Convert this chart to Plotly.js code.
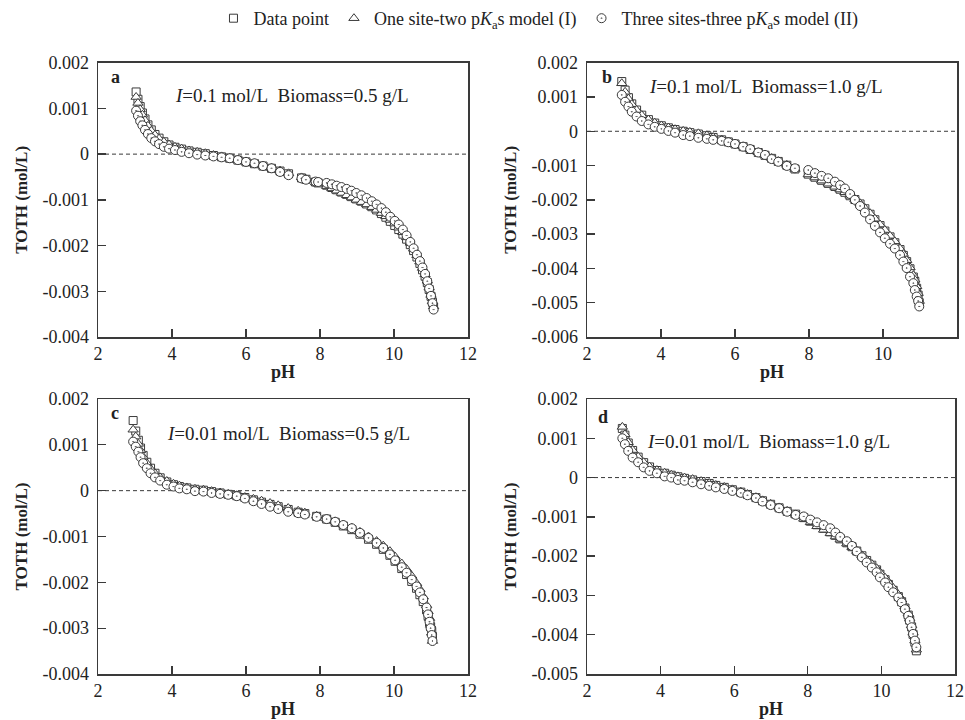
<!DOCTYPE html>
<html>
<head>
<meta charset="utf-8">
<script src="https://cdn.plot.ly/plotly-3.0.1.min.js"></script>
<style>html,body{margin:0;padding:0;background:#fff;}#chart{width:965px;height:720px;}</style>
</head>
<body>
<div id="chart"></div>
<script>
// ---------- Data (TOTH in mol/L vs pH) ----------
// Panel a: I=0.1 mol/L, Biomass=0.5 g/L
const pHA = [3.03,3.08,3.14,3.20,3.27,3.35,3.44,3.54,3.65,3.78,3.92,4.08,4.26,4.46,4.68,4.90,5.12,5.34,5.56,5.78,6.00,6.23,6.46,6.69,6.92,7.15,7.50,7.62,7.88,7.95,8.18,8.32,8.45,8.58,8.72,8.85,8.98,9.12,9.26,9.40,9.53,9.66,9.78,9.90,10.02,10.13,10.24,10.34,10.44,10.53,10.62,10.70,10.77,10.84,10.90,10.95,11.00,11.04,11.07];
const dataA = [1.36e-3,1.20e-3,1.04e-3,0.90e-3,0.77e-3,0.64e-3,0.53e-3,0.43e-3,0.35e-3,0.27e-3,0.20e-3,0.15e-3,0.11e-3,0.07e-3,0.04e-3,0.01e-3,-0.03e-3,-0.06e-3,-0.09e-3,-0.13e-3,-0.17e-3,-0.21e-3,-0.26e-3,-0.31e-3,-0.37e-3,-0.43e-3,-0.52e-3,-0.55e-3,-0.61e-3,-0.63e-3,-0.68e-3,-0.73e-3,-0.78e-3,-0.83e-3,-0.88e-3,-0.93e-3,-0.98e-3,-1.03e-3,-1.09e-3,-1.15e-3,-1.22e-3,-1.30e-3,-1.38e-3,-1.47e-3,-1.56e-3,-1.65e-3,-1.75e-3,-1.86e-3,-1.98e-3,-2.11e-3,-2.25e-3,-2.39e-3,-2.53e-3,-2.67e-3,-2.81e-3,-2.96e-3,-3.11e-3,-3.24e-3,-3.35e-3];
const model1A = [1.25e-3,1.12e-3,0.98e-3,0.86e-3,0.74e-3,0.62e-3,0.51e-3,0.42e-3,0.34e-3,0.27e-3,0.21e-3,0.16e-3,0.12e-3,0.08e-3,0.05e-3,0.02e-3,-0.02e-3,-0.05e-3,-0.08e-3,-0.12e-3,-0.16e-3,-0.20e-3,-0.25e-3,-0.30e-3,-0.36e-3,-0.42e-3,-0.51e-3,-0.55e-3,-0.62e-3,-0.64e-3,-0.70e-3,-0.75e-3,-0.80e-3,-0.85e-3,-0.90e-3,-0.95e-3,-1.00e-3,-1.05e-3,-1.10e-3,-1.16e-3,-1.22e-3,-1.29e-3,-1.36e-3,-1.44e-3,-1.52e-3,-1.61e-3,-1.71e-3,-1.82e-3,-1.94e-3,-2.07e-3,-2.21e-3,-2.35e-3,-2.49e-3,-2.63e-3,-2.77e-3,-2.92e-3,-3.08e-3,-3.22e-3,-3.33e-3];
const model2A = [0.95e-3,0.84e-3,0.72e-3,0.63e-3,0.53e-3,0.44e-3,0.35e-3,0.28e-3,0.22e-3,0.16e-3,0.12e-3,0.09e-3,0.05e-3,0.02e-3,-0.01e-3,-0.03e-3,-0.05e-3,-0.07e-3,-0.09e-3,-0.13e-3,-0.17e-3,-0.20e-3,-0.26e-3,-0.31e-3,-0.39e-3,-0.46e-3,-0.53e-3,-0.56e-3,-0.60e-3,-0.61e-3,-0.63e-3,-0.66e-3,-0.69e-3,-0.72e-3,-0.76e-3,-0.80e-3,-0.85e-3,-0.90e-3,-0.96e-3,-1.03e-3,-1.10e-3,-1.18e-3,-1.27e-3,-1.37e-3,-1.46e-3,-1.54e-3,-1.65e-3,-1.78e-3,-1.92e-3,-2.06e-3,-2.20e-3,-2.34e-3,-2.48e-3,-2.62e-3,-2.78e-3,-2.94e-3,-3.10e-3,-3.26e-3,-3.40e-3];

// Panel b: I=0.1 mol/L, Biomass=1.0 g/L
const pHB = [2.94,3.03,3.12,3.21,3.34,3.48,3.66,3.83,4.01,4.20,4.38,4.60,4.78,5.01,5.24,5.41,5.64,5.82,6.00,6.22,6.41,6.63,6.81,6.99,7.17,7.40,7.62,7.98,8.16,8.34,8.52,8.70,8.84,8.97,9.11,9.24,9.38,9.51,9.65,9.78,9.92,10.05,10.19,10.32,10.46,10.55,10.64,10.73,10.82,10.86,10.91,10.95,10.98];
const dataB = [1.45e-3,1.20e-3,0.98e-3,0.80e-3,0.62e-3,0.47e-3,0.34e-3,0.24e-3,0.16e-3,0.10e-3,0.05e-3,0.00e-3,-0.04e-3,-0.08e-3,-0.13e-3,-0.18e-3,-0.25e-3,-0.31e-3,-0.37e-3,-0.45e-3,-0.53e-3,-0.62e-3,-0.70e-3,-0.79e-3,-0.88e-3,-0.99e-3,-1.10e-3,-1.25e-3,-1.34e-3,-1.43e-3,-1.52e-3,-1.61e-3,-1.69e-3,-1.78e-3,-1.88e-3,-1.99e-3,-2.12e-3,-2.26e-3,-2.42e-3,-2.58e-3,-2.75e-3,-2.91e-3,-3.08e-3,-3.25e-3,-3.45e-3,-3.62e-3,-3.80e-3,-4.01e-3,-4.25e-3,-4.38e-3,-4.58e-3,-4.78e-3,-5.00e-3];
const model1B = [1.40e-3,1.15e-3,0.95e-3,0.79e-3,0.62e-3,0.47e-3,0.34e-3,0.25e-3,0.17e-3,0.11e-3,0.06e-3,0.01e-3,-0.02e-3,-0.06e-3,-0.12e-3,-0.17e-3,-0.24e-3,-0.30e-3,-0.36e-3,-0.44e-3,-0.52e-3,-0.61e-3,-0.69e-3,-0.78e-3,-0.87e-3,-0.98e-3,-1.10e-3,-1.26e-3,-1.35e-3,-1.44e-3,-1.53e-3,-1.62e-3,-1.70e-3,-1.78e-3,-1.88e-3,-1.98e-3,-2.10e-3,-2.24e-3,-2.39e-3,-2.55e-3,-2.72e-3,-2.88e-3,-3.05e-3,-3.21e-3,-3.42e-3,-3.58e-3,-3.76e-3,-3.97e-3,-4.20e-3,-4.33e-3,-4.52e-3,-4.72e-3,-4.95e-3];
const model2B = [1.06e-3,0.86e-3,0.72e-3,0.57e-3,0.43e-3,0.30e-3,0.20e-3,0.13e-3,0.07e-3,0.01e-3,-0.04e-3,-0.11e-3,-0.14e-3,-0.19e-3,-0.22e-3,-0.25e-3,-0.28e-3,-0.32e-3,-0.37e-3,-0.45e-3,-0.52e-3,-0.62e-3,-0.69e-3,-0.81e-3,-0.89e-3,-1.01e-3,-1.08e-3,-1.13e-3,-1.22e-3,-1.30e-3,-1.37e-3,-1.47e-3,-1.57e-3,-1.67e-3,-1.83e-3,-2.00e-3,-2.18e-3,-2.37e-3,-2.57e-3,-2.76e-3,-2.95e-3,-3.12e-3,-3.28e-3,-3.42e-3,-3.61e-3,-3.80e-3,-3.99e-3,-4.24e-3,-4.43e-3,-4.63e-3,-4.82e-3,-4.95e-3,-5.11e-3];

// Panel c: I=0.01 mol/L, Biomass=0.5 g/L
const pHC = [2.95,3.02,3.09,3.15,3.22,3.32,3.42,3.54,3.68,3.86,4.04,4.20,4.40,4.62,4.85,5.07,5.30,5.52,5.75,5.97,6.20,6.42,6.65,6.87,7.14,7.41,7.59,7.91,8.18,8.41,8.63,8.86,9.08,9.31,9.53,9.71,9.89,10.03,10.21,10.34,10.48,10.61,10.70,10.79,10.88,10.92,10.96,10.99,11.02,11.04];
const dataC = [1.53e-3,1.30e-3,1.10e-3,0.93e-3,0.77e-3,0.62e-3,0.49e-3,0.38e-3,0.28e-3,0.19e-3,0.13e-3,0.09e-3,0.06e-3,0.03e-3,0.01e-3,-0.02e-3,-0.05e-3,-0.08e-3,-0.11e-3,-0.15e-3,-0.20e-3,-0.25e-3,-0.30e-3,-0.35e-3,-0.41e-3,-0.47e-3,-0.50e-3,-0.56e-3,-0.62e-3,-0.69e-3,-0.77e-3,-0.85e-3,-0.95e-3,-1.06e-3,-1.17e-3,-1.28e-3,-1.41e-3,-1.54e-3,-1.70e-3,-1.83e-3,-1.98e-3,-2.13e-3,-2.27e-3,-2.42e-3,-2.60e-3,-2.73e-3,-2.87e-3,-2.97e-3,-3.08e-3,-3.18e-3];
const model1C = [1.33e-3,1.18e-3,1.02e-3,0.88e-3,0.74e-3,0.60e-3,0.48e-3,0.38e-3,0.29e-3,0.21e-3,0.15e-3,0.11e-3,0.07e-3,0.04e-3,0.02e-3,-0.01e-3,-0.04e-3,-0.07e-3,-0.10e-3,-0.14e-3,-0.18e-3,-0.22e-3,-0.27e-3,-0.32e-3,-0.38e-3,-0.44e-3,-0.48e-3,-0.55e-3,-0.61e-3,-0.67e-3,-0.74e-3,-0.81e-3,-0.90e-3,-1.00e-3,-1.10e-3,-1.20e-3,-1.32e-3,-1.44e-3,-1.59e-3,-1.71e-3,-1.86e-3,-2.02e-3,-2.15e-3,-2.31e-3,-2.50e-3,-2.63e-3,-2.78e-3,-2.93e-3,-3.10e-3,-3.28e-3];
const model2C = [1.07e-3,0.96e-3,0.85e-3,0.73e-3,0.60e-3,0.49e-3,0.38e-3,0.29e-3,0.22e-3,0.13e-3,0.09e-3,0.05e-3,0.03e-3,-0.01e-3,-0.02e-3,-0.05e-3,-0.07e-3,-0.09e-3,-0.12e-3,-0.17e-3,-0.23e-3,-0.29e-3,-0.35e-3,-0.40e-3,-0.46e-3,-0.49e-3,-0.52e-3,-0.57e-3,-0.62e-3,-0.68e-3,-0.75e-3,-0.82e-3,-0.92e-3,-1.03e-3,-1.14e-3,-1.25e-3,-1.39e-3,-1.52e-3,-1.67e-3,-1.79e-3,-1.94e-3,-2.09e-3,-2.22e-3,-2.37e-3,-2.55e-3,-2.70e-3,-2.86e-3,-3.00e-3,-3.15e-3,-3.28e-3];

// Panel d: I=0.01 mol/L, Biomass=1.0 g/L
const pHD = [2.96,3.03,3.12,3.24,3.39,3.54,3.70,3.90,4.11,4.29,4.47,4.65,4.87,5.10,5.32,5.50,5.73,5.95,6.18,6.36,6.59,6.77,6.99,7.22,7.44,7.67,7.89,8.07,8.25,8.43,8.61,8.75,8.88,9.06,9.20,9.33,9.47,9.60,9.74,9.87,9.96,10.10,10.19,10.32,10.46,10.55,10.64,10.73,10.77,10.82,10.86,10.91,10.95];
const dataD = [1.25e-3,1.08e-3,0.88e-3,0.69e-3,0.52e-3,0.38e-3,0.27e-3,0.18e-3,0.11e-3,0.06e-3,0.02e-3,-0.02e-3,-0.06e-3,-0.10e-3,-0.15e-3,-0.20e-3,-0.25e-3,-0.31e-3,-0.37e-3,-0.43e-3,-0.51e-3,-0.59e-3,-0.68e-3,-0.77e-3,-0.86e-3,-0.93e-3,-1.02e-3,-1.11e-3,-1.20e-3,-1.29e-3,-1.38e-3,-1.47e-3,-1.56e-3,-1.66e-3,-1.76e-3,-1.87e-3,-1.99e-3,-2.11e-3,-2.23e-3,-2.35e-3,-2.46e-3,-2.60e-3,-2.72e-3,-2.87e-3,-3.03e-3,-3.16e-3,-3.32e-3,-3.50e-3,-3.63e-3,-3.80e-3,-3.99e-3,-4.19e-3,-4.41e-3];
const model1D = [1.29e-3,1.10e-3,0.90e-3,0.70e-3,0.53e-3,0.39e-3,0.28e-3,0.19e-3,0.12e-3,0.07e-3,0.03e-3,0.00e-3,-0.04e-3,-0.09e-3,-0.14e-3,-0.19e-3,-0.24e-3,-0.30e-3,-0.36e-3,-0.42e-3,-0.50e-3,-0.58e-3,-0.67e-3,-0.76e-3,-0.85e-3,-0.95e-3,-1.05e-3,-1.14e-3,-1.24e-3,-1.33e-3,-1.42e-3,-1.50e-3,-1.58e-3,-1.68e-3,-1.77e-3,-1.87e-3,-1.98e-3,-2.09e-3,-2.20e-3,-2.31e-3,-2.41e-3,-2.55e-3,-2.66e-3,-2.81e-3,-2.98e-3,-3.11e-3,-3.28e-3,-3.46e-3,-3.59e-3,-3.76e-3,-3.95e-3,-4.15e-3,-4.38e-3];
const model2D = [1.00e-3,0.85e-3,0.68e-3,0.51e-3,0.39e-3,0.26e-3,0.17e-3,0.11e-3,0.03e-3,0.00e-3,-0.06e-3,-0.08e-3,-0.12e-3,-0.17e-3,-0.21e-3,-0.25e-3,-0.29e-3,-0.34e-3,-0.39e-3,-0.45e-3,-0.52e-3,-0.61e-3,-0.70e-3,-0.78e-3,-0.87e-3,-0.95e-3,-0.99e-3,-1.07e-3,-1.14e-3,-1.21e-3,-1.29e-3,-1.40e-3,-1.51e-3,-1.62e-3,-1.74e-3,-1.88e-3,-2.03e-3,-2.16e-3,-2.29e-3,-2.41e-3,-2.54e-3,-2.67e-3,-2.79e-3,-2.92e-3,-3.05e-3,-3.18e-3,-3.35e-3,-3.52e-3,-3.65e-3,-3.81e-3,-3.98e-3,-4.15e-3,-4.32e-3];

// ---------- Labels & ticks ----------
const seriesNames = ["Data point", "One site-two p<i>K</i><sub>a</sub>s model (I)", "Three sites-three p<i>K</i><sub>a</sub>s model (II)"];
const panelLetters = ["a", "b", "c", "d"];
const panelTexts = [
  "<i>I</i>=0.1 mol/L\u00a0\u00a0Biomass=0.5 g/L",
  "<i>I</i>=0.1 mol/L\u00a0\u00a0Biomass=1.0 g/L",
  "<i>I</i>=0.01 mol/L\u00a0\u00a0Biomass=0.5 g/L",
  "<i>I</i>=0.01 mol/L\u00a0\u00a0Biomass=1.0 g/L"
];
const xTickVals = [2, 4, 6, 8, 10, 12];
const xTickText = ["2", "4", "6", "8", "10", "12"];
const yTickValsA = [0.002, 0.001, 0, -0.001, -0.002, -0.003, -0.004];
const yTickTextA = ["0.002", "0.001", "0", "-0.001", "-0.002", "-0.003", "-0.004"];
const yTickValsB = [0.002, 0.001, 0, -0.001, -0.002, -0.003, -0.004, -0.005, -0.006];
const yTickTextB = ["0.002", "0.001", "0", "-0.001", "-0.002", "-0.003", "-0.004", "-0.005", "-0.006"];
const yTickValsD = [0.002, 0.001, 0, -0.001, -0.002, -0.003, -0.004, -0.005];
const yTickTextD = ["0.002", "0.001", "0", "-0.001", "-0.002", "-0.003", "-0.004", "-0.005"];
const xTitle = "pH";
const yTitle = "TOTH (mol/L)";

// ---------- Styling ----------
const FONT = "'Liberation Serif', 'Times New Roman', Times, serif";
const INK = "#222";
const LINE = "#3a3a3a";

const panels = [
  {ph: pHA, series: [dataA, model1A, model2A], range: [-0.004, 0.002], tv: yTickValsA, tt: yTickTextA,
   xd: [98/965, 468/965], yd: [1-337/720, 1-62.7/720], letter: [0.046, 0.949], text: [0.203, 0.882]},
  {ph: pHB, series: [dataB, model1B, model2B], range: [-0.006, 0.002], tv: yTickValsB, tt: yTickTextB,
   xd: [587/965, 957/965], yd: [1-337/720, 1-62.7/720], letter: [0.053, 0.949], text: [0.162, 0.9125]},
  {ph: pHC, series: [dataC, model1C, model2C], range: [-0.004, 0.002], tv: yTickValsA, tt: yTickTextA,
   xd: [98/965, 468/965], yd: [1-674/720, 1-399/720], letter: [0.046, 0.949], text: [0.181, 0.876]},
  {ph: pHD, series: [dataD, model1D, model2D], range: [-0.005, 0.002], tv: yTickValsD, tt: yTickTextD,
   xd: [587/965, 955/965], yd: [1-674/720, 1-399/720], letter: [0.0435, 0.935], text: [0.158, 0.845]}
];
const symbols = ["square", "triangle-up", "circle-dot"];
const sizes = [8, 9, 9];

const traces = [];
const layout = {
  width: 965, height: 720,
  margin: {l: 0, r: 0, t: 0, b: 0},
  paper_bgcolor: "#fff", plot_bgcolor: "#fff",
  font: {family: FONT, size: 18, color: INK},
  showlegend: true,
  legend: {orientation: "h", x: 0.558, xanchor: "center", y: 1.0, yanchor: "top",
           font: {family: FONT, size: 18, color: INK}, bgcolor: "rgba(0,0,0,0)", itemwidth: 30, tracegroupgap: 0},
  annotations: [], shapes: []
};

panels.forEach((p, i) => {
  const n = i + 1;
  const xa = "x" + (n === 1 ? "" : n), ya = "y" + (n === 1 ? "" : n);
  const xKey = "xaxis" + (n === 1 ? "" : n), yKey = "yaxis" + (n === 1 ? "" : n);
  p.series.forEach((vals, s) => {
    traces.push({
      type: "scatter", mode: "markers", x: p.ph, y: vals, xaxis: xa, yaxis: ya,
      name: seriesNames[s], legendgroup: "g" + s, showlegend: i === 0,
      marker: {symbol: symbols[s], size: sizes[s], color: "#fff", line: {color: LINE, width: 1}},
      cliponaxis: false, hoverinfo: "x+y"
    });
  });
  layout[xKey] = {
    domain: p.xd, anchor: ya, range: [2, 12], tickmode: "array", tickvals: xTickVals, ticktext: xTickText,
    ticks: "inside", ticklen: 8, tickwidth: 1.3, tickcolor: LINE,
    showline: true, mirror: true, linecolor: LINE, linewidth: 1.5,
    showgrid: false, zeroline: false, fixedrange: true,
    tickfont: {family: FONT, size: 18, color: INK},
    title: {text: xTitle, standoff: 2, font: {family: FONT, size: 18, color: INK, weight: 700}}
  };
  layout[yKey] = {
    domain: p.yd, anchor: xa, range: p.range, tickmode: "array", tickvals: p.tv, ticktext: p.tt,
    ticks: "inside", ticklen: 8, tickwidth: 1.3, tickcolor: LINE,
    showline: true, mirror: true, linecolor: LINE, linewidth: 1.5,
    showgrid: false, zeroline: false, fixedrange: true, ticklabelstandoff: 4,
    tickfont: {family: FONT, size: 18, color: INK},
    title: {text: yTitle, standoff: 10, font: {family: FONT, size: 17, color: INK, weight: 700}}
  };
  layout.shapes.push({type: "line", xref: xa + " domain", yref: ya, x0: 0, x1: 1, y0: 0, y1: 0,
    line: {color: LINE, width: 1, dash: "4px,3px"}, layer: "below"});
  layout.annotations.push({xref: xa + " domain", yref: ya + " domain", x: p.letter[0], y: p.letter[1],
    xanchor: "center", yanchor: "middle", showarrow: false, text: "<b>" + panelLetters[i] + "</b>",
    font: {family: FONT, size: 18, color: INK}});
  layout.annotations.push({xref: xa + " domain", yref: ya + " domain", x: p.text[0], y: p.text[1],
    xanchor: "left", yanchor: "middle", showarrow: false, text: panelTexts[i],
    font: {family: FONT, size: 19, color: INK}});
});

Plotly.newPlot("chart", traces, layout, {displayModeBar: false, staticPlot: true});
</script>
</body>
</html>
